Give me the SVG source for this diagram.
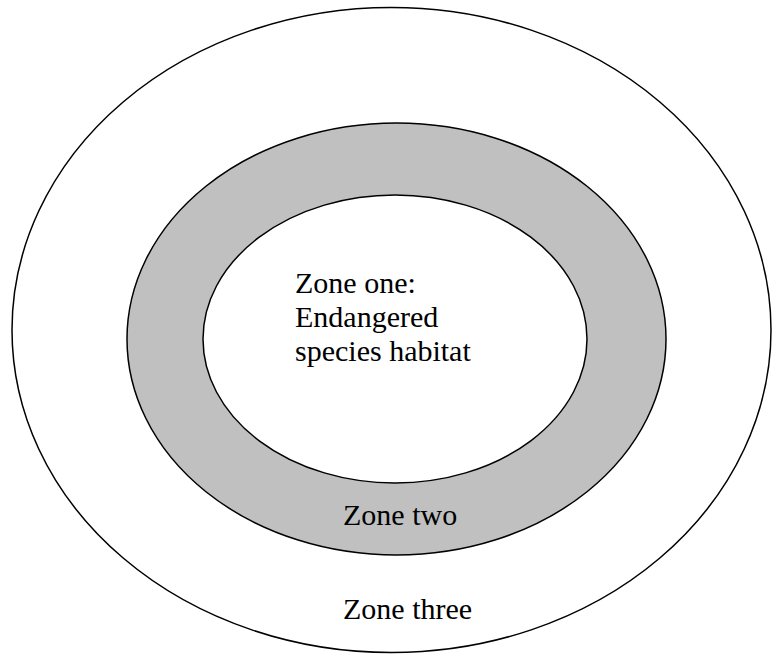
<svg xmlns="http://www.w3.org/2000/svg" width="772" height="656" viewBox="0 0 772 656">
<style>
.zone { stroke: #000; stroke-width: 1.5; }
text { font-family: 'Liberation Serif', 'DejaVu Serif', serif; font-size: 30px; fill: #000; }
</style>
<rect width="772" height="656" fill="#fff"/>
<g id="zone-three">
<ellipse class="zone" cx="391.5" cy="330" rx="379.5" ry="322.5" fill="#fff"/>
<text x="343" y="619">Zone three</text>
</g>
<g id="zone-two">
<ellipse class="zone" cx="396.5" cy="339" rx="269.5" ry="216" fill="#c0c0c0"/>
<text x="343" y="525">Zone two</text>
</g>
<g id="zone-one">
<ellipse class="zone" cx="395" cy="339" rx="192" ry="144" fill="#fff"/>
<text x="295" y="293">Zone one:</text>
<text x="295" y="327">Endangered</text>
<text x="295" y="361">species habitat</text>
</g>
<g id="connectors"></g>
</svg>
